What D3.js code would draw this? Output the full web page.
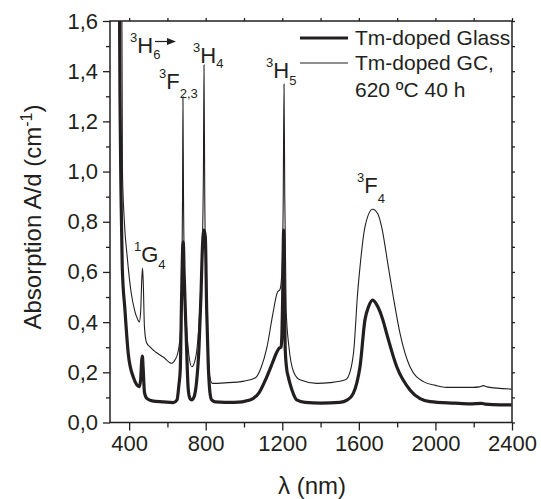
<!DOCTYPE html>
<html lang="en">
<head>
<meta charset="UTF-8">
<title>Tm absorption</title>
<script src="https://d3js.org/d3.v7.min.js"></script>
<style>
    body{ margin:0; background:#fff; }
    svg text{ font-family:"Liberation Sans", Arial, sans-serif; fill:#231f20; }
</style>
</head>
<body>
<script>
    // wavelength (nm) and absorption A/d (cm-1)
    const glassWl = [345,350,352,358,364,378,396,422,440,453,460,466,469,473,480,492,520,580,631,650,660,667,674,680,683,687,697,709,718,727,738,752,765,775,783,791,798,805,813,822,831,850,950,1031,1080,1118,1150,1171,1184,1193,1197,1202,1207,1211,1215,1222,1232,1240,1260,1275,1320,1400,1500,1540,1571,1590,1606,1632,1650,1672,1700,1725,1745,1798,1867,1920,1972,2100,2181,2240,2260,2300,2398];
    const glassA  = [1.8,1.6,1.31,0.887,0.62,0.45,0.27,0.18,0.15,0.143,0.17,0.25,0.265,0.22,0.12,0.096,0.086,0.082,0.079,0.09,0.15,0.21,0.5,0.7,0.72,0.6,0.369,0.13,0.095,0.09,0.1,0.16,0.3,0.5,0.7,0.767,0.74,0.45,0.236,0.12,0.09,0.082,0.08,0.09,0.12,0.18,0.24,0.28,0.296,0.3,0.33,0.5,0.767,0.5,0.3,0.22,0.18,0.156,0.11,0.09,0.08,0.077,0.08,0.09,0.116,0.16,0.222,0.41,0.46,0.488,0.46,0.41,0.355,0.222,0.13,0.095,0.083,0.077,0.074,0.076,0.073,0.071,0.07];

    const gcWl = [356,362,365,375,390,410,431,445,453,460,466,470,474,480,490,510,540,580,622,640,655,668,675,679,681,684,690,700,712,727,745,760,772,782,788,791,795,802,812,822,835,900,1000,1060,1090,1120,1150,1175,1188,1198,1205,1209,1213,1220,1235,1260,1292,1380,1450,1530,1560,1575,1592,1606,1632,1672,1700,1719,1754,1780,1815,1867,1937,2000,2059,2196,2230,2250,2270,2398];
    const gcA  = [1.8,1.65,1.0,0.8,0.66,0.52,0.44,0.41,0.40,0.44,0.57,0.615,0.55,0.38,0.32,0.30,0.28,0.26,0.236,0.25,0.28,0.36,0.55,0.9,1.298,0.9,0.55,0.38,0.27,0.222,0.25,0.34,0.5,0.7,1.0,1.425,0.9,0.55,0.3,0.18,0.156,0.158,0.165,0.178,0.22,0.3,0.43,0.52,0.53,0.6,0.9,1.349,0.9,0.45,0.3,0.2,0.17,0.156,0.159,0.17,0.22,0.3,0.5,0.62,0.78,0.85,0.83,0.78,0.62,0.5,0.355,0.222,0.163,0.148,0.14,0.14,0.142,0.147,0.142,0.133];

    const xTicks = [400,800,1200,1600,2000,2400];
    const xMinor = [600,1000,1400,1800,2200];
    const yTicks = [0,0.2,0.4,0.6,0.8,1.0,1.2,1.4,1.6];
    const yMinor = [0.1,0.3,0.5,0.7,0.9,1.1,1.3,1.5];
    const legendNames = ["Tm-doped Glass", "Tm-doped GC,", "620 ºC 40 h"];

    // level labels: superscript, letter, subscript
    const levels = [
        ["3","H","6"],
        ["3","F","2,3"],
        ["3","H","4"],
        ["3","H","5"],
        ["1","G","4"],
        ["3","F","4"]
    ];

    const W = 541, H = 499;
    const pL = 110, pR = 512, pT = 21, pB = 422.5;
    const ink = "#231f20";

    const svg = d3.select("body").append("svg")
        .attr("width", W)
        .attr("height", H);

    const x = d3.scaleLinear().domain([300, 2400]).range([pL, pR]);
    const y = d3.scaleLinear().domain([0, 1.6]).range([pB, pT]);

    svg.append("clipPath").attr("id", "plot")
        .append("rect")
        .attr("x", pL).attr("y", pT)
        .attr("width", pR - pL).attr("height", pB - pT);

    const line = d3.line()
        .x(d => x(d[0]))
        .y(d => y(d[1]))
        .curve(d3.curveMonotoneX);

    const glass = glassWl.map((w, i) => [w, glassA[i]]);
    const gc = gcWl.map((w, i) => [w, gcA[i]]);

    const curves = svg.append("g").attr("clip-path", "url(#plot)");
    curves.append("path")
        .attr("d", line(gc))
        .attr("fill", "none")
        .attr("stroke", ink)
        .attr("stroke-width", 1.1);
    curves.append("path")
        .attr("d", line(glass))
        .attr("fill", "none")
        .attr("stroke", ink)
        .attr("stroke-width", 3.2)
        .attr("stroke-linejoin", "round");

    // axes
    const fmtY = d => d3.format(".1f")(d).replace(".", ",");

    function styleAxis(g){
        g.select(".domain").remove();
        g.selectAll("line").attr("stroke", ink).attr("stroke-width", 1.3);
    }

    svg.append("g")
        .attr("transform", `translate(0,${pB})`)
        .call(d3.axisBottom(x).tickValues(xTicks).tickSize(8).tickPadding(5).tickFormat(d3.format("d")))
        .call(styleAxis)
        .call(g => g.selectAll("text").attr("font-size", 22).attr("fill", ink));
    svg.append("g")
        .attr("transform", `translate(0,${pB})`)
        .call(d3.axisBottom(x).tickValues(xMinor).tickSize(5).tickFormat(""))
        .call(styleAxis);

    svg.append("g")
        .attr("transform", `translate(${pL},0)`)
        .call(d3.axisLeft(y).tickValues(yTicks).tickSize(7).tickPadding(5).tickFormat(fmtY))
        .call(styleAxis)
        .call(g => g.selectAll("text").attr("font-size", 22).attr("fill", ink));
    svg.append("g")
        .attr("transform", `translate(${pL},0)`)
        .call(d3.axisLeft(y).tickValues(yMinor).tickSize(4).tickFormat(""))
        .call(styleAxis);

    svg.append("g")
        .attr("transform", `translate(0,${pT})`)
        .call(d3.axisTop(x).tickValues(xTicks.concat(xMinor)).tickSize(3).tickFormat(""))
        .call(styleAxis);
    svg.append("g")
        .attr("transform", `translate(${pR},0)`)
        .call(d3.axisRight(y).tickValues(yTicks.concat(yMinor)).tickSize(3).tickFormat(""))
        .call(styleAxis);

    svg.append("rect")
        .attr("x", pL).attr("y", pT)
        .attr("width", pR - pL).attr("height", pB - pT)
        .attr("fill", "none")
        .attr("stroke", ink)
        .attr("stroke-width", 1.5);

    // axis titles
    const yt = svg.append("text")
        .attr("transform", "translate(41,217) rotate(-90)")
        .attr("text-anchor", "middle")
        .attr("font-size", 24);
    yt.append("tspan").text("Absorption A/d (cm");
    yt.append("tspan").attr("font-size", 16).attr("dy", -9).text("-1");
    yt.append("tspan").attr("dy", 9).text(")");

    svg.append("text")
        .attr("x", 312).attr("y", 494)
        .attr("text-anchor", "middle")
        .attr("font-size", 24)
        .text("λ (nm)");

    // legend
    const lg = svg.append("g");
    lg.append("line").attr("x1", 300).attr("x2", 348).attr("y1", 38).attr("y2", 38)
        .attr("stroke", ink).attr("stroke-width", 3.2);
    lg.append("line").attr("x1", 300).attr("x2", 348).attr("y1", 63).attr("y2", 63)
        .attr("stroke", ink).attr("stroke-width", 1.1);
    lg.selectAll("text.leg")
        .data(legendNames)
        .enter()
        .append("text")
        .attr("class", "leg")
        .attr("x", 355)
        .attr("y", (d, i) => [45, 70, 97][i])
        .attr("font-size", 21)
        .text(d => d);

    // level annotations
    const spots = [[130, 53, 6], [159, 89, 9], [193, 63, 5], [266, 78, 7], [134, 262, 7], [357, 193, 10]];
    levels.forEach((lv, i) => {
        const p = spots[i];
        const t = svg.append("text").attr("x", p[0]).attr("y", p[1]).attr("font-size", 22);
        t.append("tspan").attr("font-size", 13).attr("dy", -11).text(lv[0]);
        t.append("tspan").attr("dy", 11).text(lv[1]);
        t.append("tspan").attr("font-size", 13).attr("dy", p[2]).text(lv[2]);
    });

    // arrow after 3H6
    svg.append("line").attr("x1", 155).attr("x2", 168).attr("y1", 41.5).attr("y2", 41.5)
        .attr("stroke", ink).attr("stroke-width", 1.2);
    svg.append("path").attr("d", "M167,38 L176,41.5 L167,45 Z").attr("fill", ink);
</script>
</body>
</html>
